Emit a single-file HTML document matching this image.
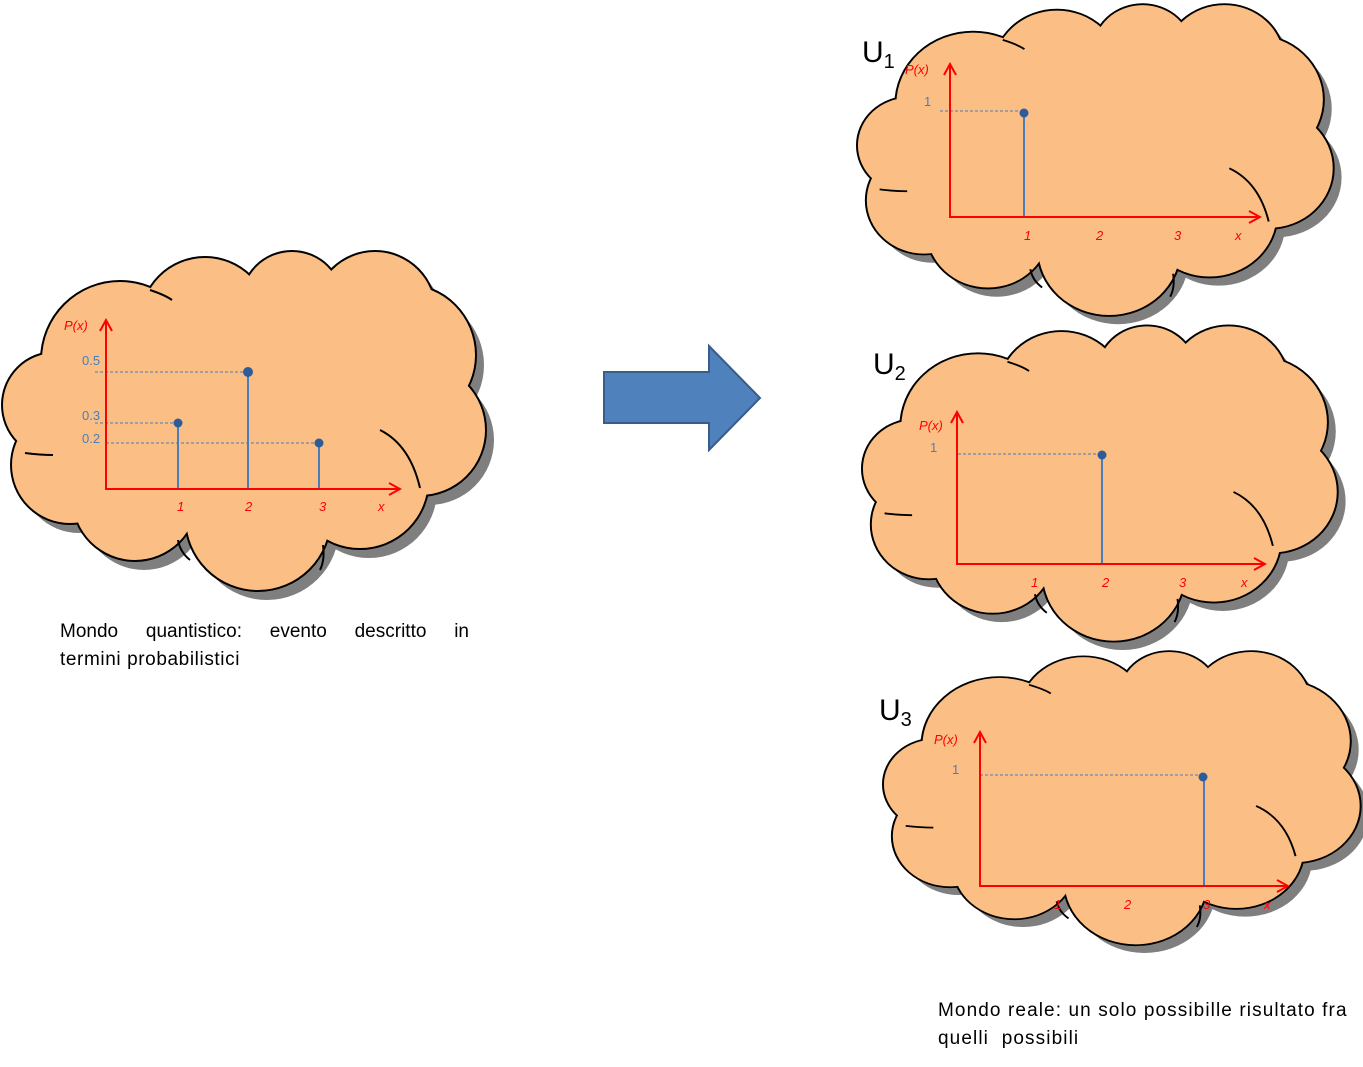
<!DOCTYPE html>
<html><head><meta charset="utf-8"><style>
body{margin:0;background:#fff;width:1363px;height:1067px;overflow:hidden;font-family:"Liberation Sans",sans-serif}
svg{position:absolute;left:0;top:0}
.t{position:absolute;font-size:19px;color:#000;line-height:28px;white-space:nowrap}
</style></head><body>
<svg width="1363" height="1067" viewBox="0 0 1363 1067">
<defs>
<g id="circ">
<circle cx="55" cy="405" r="52"/>
<circle cx="120" cy="360" r="78"/>
<circle cx="205" cy="322" r="64"/>
<circle cx="292" cy="302" r="50"/>
<circle cx="375" cy="312" r="60"/>
<circle cx="405" cy="355" r="70"/>
<circle cx="420" cy="430" r="65"/>
<circle cx="360" cy="480" r="68"/>
<circle cx="258" cy="518" r="72"/>
<circle cx="135" cy="498" r="62"/>
<circle cx="70" cy="465" r="58"/>
<ellipse cx="250" cy="420" rx="170" ry="110"/>
</g>
<g id="cloud">
<g fill="#7f7f7f" transform="translate(9,10)"><use href="#circ"/></g>
<g fill="#000" stroke="#000" stroke-width="4"><use href="#circ"/></g>
<g fill="#fbbf85"><use href="#circ"/></g>
<g fill="none" stroke="#000" stroke-width="2">
<path d="M25 453 Q40 455 53 455"/>
<path d="M150 290 Q165 295 172 300"/>
<path d="M380 430 Q410 445 420 488"/>
<path d="M178 540 Q180 552 190 560"/>
<path d="M323 545 Q325 560 320 570"/>
</g>
</g>
<marker id="ar" markerWidth="14" markerHeight="14" refX="12" refY="7" orient="auto-start-reverse" markerUnits="userSpaceOnUse"><path d="M1 1 L12 7 L1 13" fill="none" stroke="#f00" stroke-width="2"/></marker>
</defs>
<use href="#cloud"/>
<use href="#cloud" transform="translate(855,-226) scale(0.985,0.917)"/>
<use href="#cloud" transform="translate(860,92) scale(0.983,0.93)"/>
<use href="#cloud" transform="translate(881,434) scale(0.987,0.865)"/>

<g font-family="Liberation Sans,sans-serif" font-size="13" font-style="italic" fill="#f00">
<g stroke="#4a7ebb" stroke-width="1" stroke-dasharray="3,2">
<line x1="95" y1="372" x2="248" y2="372"/><line x1="95" y1="423" x2="177" y2="423"/><line x1="106" y1="443" x2="318" y2="443"/>
<line x1="940" y1="111" x2="1023" y2="111"/><line x1="958" y1="454" x2="1101" y2="454"/><line x1="980" y1="775" x2="1202" y2="775"/>
</g>
<g stroke="#4a7ebb" stroke-width="2">
<line x1="178" y1="423" x2="178" y2="489"/><line x1="248" y1="372" x2="248" y2="489"/><line x1="319" y1="443" x2="319" y2="489"/>
<line x1="1024" y1="113" x2="1024" y2="217"/><line x1="1102" y1="455" x2="1102" y2="564"/><line x1="1204" y1="777" x2="1204" y2="886"/>
</g>
<g fill="#2e5c9a"><circle cx="178" cy="423" r="4.5"/><circle cx="248" cy="372" r="5"/><circle cx="319" cy="443" r="4.5"/>
<circle cx="1024" cy="113" r="4.5"/><circle cx="1102" cy="455" r="4.5"/><circle cx="1203" cy="777" r="4.5"/></g>
<g stroke="#f00" stroke-width="2" fill="none">
<polyline points="106,320 106,489 400,489" marker-end="url(#ar)" marker-start="url(#ar)"/>
<polyline points="950,64 950,217 1260,217" marker-end="url(#ar)" marker-start="url(#ar)"/>
<polyline points="957,412 957,564 1265,564" marker-end="url(#ar)" marker-start="url(#ar)"/>
<polyline points="980,732 980,886 1288,886" marker-end="url(#ar)" marker-start="url(#ar)"/>
</g>
<text x="64" y="330">P(x)</text>
<text x="177" y="511">1</text><text x="245" y="511">2</text><text x="319" y="511">3</text><text x="378" y="511">x</text>
<text x="905" y="74">P(x)</text>
<text x="1024" y="240">1</text><text x="1096" y="240">2</text><text x="1174" y="240">3</text><text x="1235" y="240">x</text>
<text x="919" y="430">P(x)</text>
<text x="1031" y="587">1</text><text x="1102" y="587">2</text><text x="1179" y="587">3</text><text x="1241" y="587">x</text>
<text x="934" y="744">P(x)</text>
<text x="1054" y="909">1</text><text x="1124" y="909">2</text><text x="1203" y="909">3</text><text x="1264" y="909">x</text>
</g>
<g font-family="Liberation Sans,sans-serif" font-size="13" fill="#4a7ebb">
<text x="82" y="365">0.5</text><text x="82" y="420">0.3</text><text x="82" y="443">0.2</text>
<text x="924" y="106">1</text><text x="930" y="452">1</text><text x="952" y="774">1</text>
</g>
<g font-family="Liberation Sans,sans-serif" fill="#000">
<text x="862" y="62" font-size="30">U<tspan font-size="20" dy="6">1</tspan></text>
<text x="873" y="374" font-size="30">U<tspan font-size="20" dy="6">2</tspan></text>
<text x="879" y="720" font-size="30">U<tspan font-size="20" dy="6">3</tspan></text>
</g>
<path d="M604 372 L709 372 L709 346 L760 398 L709 450 L709 423 L604 423 Z" fill="#4f81bd" stroke="#385d8a" stroke-width="2"/>
</svg>
<div class="t" style="left:60px;top:618px;width:409px;white-space:normal;text-align:justify;text-align-last:justify">Mondo quantistico: evento descritto in</div>
<div class="t" style="left:60px;top:646px;letter-spacing:0.6px">termini probabilistici</div>
<div class="t" style="left:938px;top:997px;letter-spacing:1.1px">Mondo reale: un solo possibille risultato fra<br>quelli&nbsp; possibili</div>
</body></html>
